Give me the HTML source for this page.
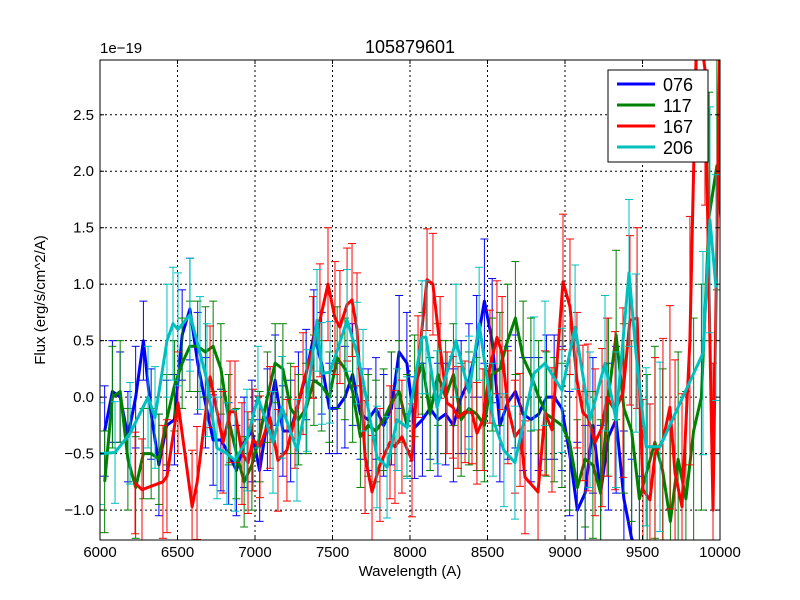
<!DOCTYPE html>
<html><head><meta charset="utf-8"><style>
html,body{margin:0;padding:0;background:#fff;overflow:hidden;width:800px;height:600px}
svg{display:block}
svg text{font-family:"Liberation Sans","DejaVu Sans",sans-serif}
</style></head><body>
<svg id="chart" width="800" height="600" xmlns="http://www.w3.org/2000/svg">
<rect width="800" height="600" fill="#fff"/>
<defs><clipPath id="clip"><rect x="100" y="60" width="620" height="480"/></clipPath></defs>
<g id="grid"></g>
<g id="series" clip-path="url(#clip)"></g>
<rect x="100" y="60" width="620" height="480" fill="none" stroke="#000" stroke-width="1"/>
<g id="ticks"></g>
<text x="410" y="53" font-size="18" text-anchor="middle">105879601</text>
<text x="100" y="53" font-size="15">1e−19</text>
<text x="410" y="576" font-size="15" text-anchor="middle">Wavelength (A)</text>
<text x="45" y="300" font-size="15" text-anchor="middle" transform="rotate(-90 45 300)">Flux (erg/s/cm^2/A)</text>
<g>
<rect x="608" y="70" width="100" height="92" fill="#fff" stroke="#000" stroke-width="1"/>
<g><line x1="617" y1="84" x2="655" y2="84" stroke="#0000ff" stroke-width="3"/><text x="663" y="91" font-size="18">076</text></g>
<g><line x1="617" y1="105" x2="655" y2="105" stroke="#008000" stroke-width="3"/><text x="663" y="112" font-size="18">117</text></g>
<g><line x1="617" y1="126" x2="655" y2="126" stroke="#ff0000" stroke-width="3"/><text x="663" y="133" font-size="18">167</text></g>
<g><line x1="617" y1="147" x2="655" y2="147" stroke="#00bfbf" stroke-width="3"/><text x="663" y="154" font-size="18">206</text></g>
</g>
</svg>
<script>
const xTicks=[6000,6500,7000,7500,8000,8500,9000,9500,10000];
const yTicks=[-1.0,-0.5,0.0,0.5,1.0,1.5,2.0,2.5];
const yTickLabels=["−1.0","−0.5","0.0","0.5","1.0","1.5","2.0","2.5"];
const blueVals=[-0.3,0.05,0.0,-0.35,0.0,0.5,-0.15,-0.6,-0.25,-0.2,0.55,0.78,0.3,-0.05,-0.38,-0.38,-0.5,-0.65,-0.4,-0.3,-0.65,-0.2,0.15,-0.3,-0.3,-0.05,0.2,0.55,0.3,-0.1,-0.1,0.0,0.2,-0.15,-0.2,-0.1,-0.25,-0.1,0.4,0.3,-0.27,-0.2,-0.1,-0.2,-0.15,-0.25,0.0,0.15,0.45,0.85,0.5,-0.25,-0.05,0.05,-0.15,-0.2,-0.15,0.0,0.0,-0.1,-0.5,-1.0,-0.85,-0.25,-0.85,-0.35,-0.2,-0.9,-1.25,-1.4];
const blueErr=[0.4,0.45,0.4,0.4,0.45,0.35,0.4,0.45,0.4,0.4,0.4,0.45,0.45,0.4,0.4,0.45,0.45,0.4,0.4,0.45,0.45,0.45,0.4,0.4,0.45,0.45,0.4,0.4,0.45,0.4,0.4,0.45,0.45,0.4,0.45,0.45,0.45,0.5,0.5,0.45,0.45,0.5,0.45,0.5,0.45,0.5,0.5,0.5,0.45,0.55,0.55,0.5,0.5,0.5,0.5,0.55,0.5,0.55,0.55,0.55,0.55,0.6,0.6,0.6,0.6,0.65,0.65,0.6,0.7,0.7];
const greenVals=[-0.75,0.0,0.05,-0.55,-0.8,-0.5,-0.5,-0.55,-0.2,0.1,0.3,0.45,0.45,0.4,0.45,0.25,-0.2,-0.5,-0.75,-0.6,-0.35,0.0,0.3,0.25,-0.1,-0.2,-0.1,0.15,0.1,0.0,0.35,0.25,0.05,-0.35,-0.25,-0.3,-0.2,-0.05,0.05,-0.25,0.1,0.3,-0.15,0.2,0.0,0.2,-0.2,-0.1,-0.15,-0.25,0.2,0.25,0.5,0.7,0.35,0.2,0.0,-0.15,-0.2,-0.25,-0.4,-0.8,-0.55,-0.6,-0.85,0.0,0.55,-0.1,-0.3,-0.9,-0.65,-0.4,-0.65,-1.1,-0.55,-0.9,-0.3,0.0,1.6,2.05,1.15];
const greenErr=[0.45,0.45,0.45,0.45,0.45,0.4,0.4,0.4,0.4,0.4,0.4,0.4,0.4,0.4,0.4,0.4,0.4,0.4,0.4,0.4,0.4,0.4,0.35,0.4,0.4,0.4,0.4,0.4,0.4,0.4,0.45,0.45,0.45,0.45,0.45,0.45,0.45,0.45,0.45,0.45,0.45,0.45,0.5,0.45,0.5,0.45,0.5,0.5,0.5,0.5,0.5,0.5,0.5,0.5,0.5,0.5,0.5,0.55,0.55,0.55,0.6,0.6,0.6,0.65,0.65,0.7,0.75,0.75,0.8,0.8,0.85,0.85,0.9,0.9,0.95,0.95,1.0,1.0,1.1,1.1,1.1];
const redWl=[6226,6271,6406,6432,6503,6594,6626,6710,6794,6839,6871,6916,6955,6987,7032,7097,7148,7206,7258,7310,7374,7419,7471,7516,7548,7594,7626,7658,7710,7755,7806,7871,7903,7948,8013,8052,8110,8148,8194,8239,8277,8310,8355,8400,8432,8471,8516,8561,8594,8632,8677,8710,8742,8826,8871,8916,8987,9032,9077,9116,9148,9194,9239,9271,9323,9374,9419,9465,9503,9548,9581,9632,9677,9710,9755,9806,9852,9903,9955,10000];
const redVals=[-0.76,-0.82,-0.75,-0.7,-0.05,-0.97,-0.76,0.18,-0.4,-0.13,-0.13,-0.5,-0.58,-0.38,-0.44,-0.18,-0.56,-0.47,-0.18,0.12,0.44,0.68,1.0,0.7,0.62,0.82,0.86,0.6,-0.53,-0.84,-0.6,-0.4,-0.44,-0.35,-0.56,0.27,1.04,1.0,0.44,-0.05,-0.09,-0.18,-0.13,-0.14,-0.32,-0.2,0.27,0.53,0.39,-0.09,-0.35,-0.29,-0.71,-0.84,-0.14,-0.29,1.02,0.8,0.15,-0.14,-0.18,-0.4,-0.27,0.0,-0.12,0.04,0.68,0.7,-0.82,-0.91,-0.5,-0.38,-0.09,-0.67,-0.97,0.5,3.5,2.9,-1.0,3.3];
const redErr=[0.45,0.45,0.5,0.5,0.45,0.5,0.5,0.45,0.45,0.45,0.45,0.45,0.45,0.45,0.45,0.45,0.45,0.45,0.45,0.45,0.45,0.5,0.5,0.5,0.5,0.5,0.5,0.5,0.5,0.5,0.5,0.5,0.5,0.5,0.5,0.45,0.45,0.45,0.45,0.45,0.45,0.45,0.45,0.45,0.45,0.45,0.5,0.5,0.5,0.5,0.5,0.5,0.5,0.55,0.55,0.55,0.6,0.6,0.6,0.6,0.65,0.65,0.7,0.7,0.7,0.75,0.75,0.8,0.8,0.85,0.85,0.9,0.9,1.0,1.0,1.1,1.2,1.2,1.3,1.3];
const cyanWl=[6000,6097,6194,6310,6355,6432,6471,6503,6581,6645,6690,6755,6819,6871,6948,7019,7116,7174,7271,7335,7400,7432,7484,7594,7658,7697,7787,7852,7916,7981,8077,8103,8174,8297,8381,8446,8536,8606,8677,8800,8871,8981,9065,9161,9258,9329,9413,9458,9523,9613,9890,9935,9974];
const cyanVals=[-0.5,-0.49,-0.32,0.0,-0.18,0.5,0.65,0.6,0.73,0.39,0.15,-0.45,-0.5,-0.56,-0.38,0.0,-0.4,-0.09,-0.47,-0.03,0.68,0.21,0.22,0.68,0.39,0.15,-0.53,-0.62,-0.2,-0.27,0.53,0.53,-0.09,0.5,0.04,0.65,-0.2,-0.47,-0.58,0.21,0.3,0.06,0.62,-0.2,0.3,-0.2,1.1,0.39,-0.44,-0.44,0.39,1.57,0.97];
const cyanErr=[0.45,0.45,0.45,0.45,0.45,0.5,0.5,0.5,0.5,0.5,0.5,0.45,0.45,0.45,0.45,0.45,0.45,0.45,0.45,0.45,0.45,0.45,0.45,0.45,0.45,0.45,0.45,0.45,0.45,0.45,0.5,0.5,0.5,0.5,0.5,0.5,0.5,0.5,0.5,0.5,0.55,0.55,0.55,0.6,0.6,0.6,0.65,0.7,0.7,0.75,0.9,1.0,1.0];

const X0=100,X1=720,Y0=60,Y1=540,xmin=6000,xmax=10000,ymin=-1.265,ymax=2.985;
const sx=v=>X0+(v-xmin)/(xmax-xmin)*(X1-X0);
const sy=v=>Y1-(v-ymin)/(ymax-ymin)*(Y1-Y0);
const cy=y=>Math.max(Y0,Math.min(Y1,y));
const cyl=y=>Math.max(Y0-50,Math.min(Y1+50,y));
const NS="http://www.w3.org/2000/svg";
function mk(tag,attrs,parent){const e=document.createElementNS(NS,tag);for(const k in attrs)e.setAttribute(k,attrs[k]);parent.appendChild(e);return e;}
const grid=document.getElementById('grid'),ticks=document.getElementById('ticks'),ser=document.getElementById('series');
xTicks.forEach(t=>{const x=sx(t);
 const g=mk('line',{x1:x,x2:x,y1:Y0,y2:Y1,stroke:'#000','stroke-dasharray':'2,3','stroke-width':1},grid);
 
 
 mk('line',{x1:x,x2:x,y1:Y1,y2:Y1-4,stroke:'#000'},ticks);
 mk('line',{x1:x,x2:x,y1:Y0,y2:Y0+4,stroke:'#000'},ticks);
 const tx=mk('text',{x:x,y:Y1+17,'font-size':15,'text-anchor':'middle'},ticks);tx.textContent=t;
 
 
});
yTicks.forEach((t,i)=>{const y=sy(t);
 const g=mk('line',{x1:X0,x2:X1,y1:y,y2:y,stroke:'#000','stroke-dasharray':'2,3','stroke-width':1},grid);
 
 
 mk('line',{x1:X0,x2:X0+4,y1:y,y2:y,stroke:'#000'},ticks);
 mk('line',{x1:X1,x2:X1-4,y1:y,y2:y,stroke:'#000'},ticks);
 const tx=mk('text',{x:X0-6,y:y+5,'font-size':15,'text-anchor':'end'},ticks);tx.textContent=yTickLabels[i];
 
 
});
function gridWl(n){const a=[];for(let i=0;i<n;i++)a.push(6030+50*i);return a;}
function draw(name,wl,vals,err,color){
 const g=mk('g',{},ser);
 
 
 vals.forEach((v,i)=>{const x=sx(wl[i]),e=err[i]||0.5;
  const ya=sy(v+e),yb=sy(v-e);
  const ca=cy(ya),cb=cy(yb);
  if(cb>ca) mk('line',{x1:x,x2:x,y1:ca,y2:cb,stroke:color,'stroke-width':1},g);
  if(ya>=Y0&&ya<=Y1) mk('line',{x1:x-4,x2:x+4,y1:ya,y2:ya,stroke:color,'stroke-width':1},g);
  if(yb>=Y0&&yb<=Y1) mk('line',{x1:x-4,x2:x+4,y1:yb,y2:yb,stroke:color,'stroke-width':1},g);
 });
 const pts=vals.map((v,i)=>sx(wl[i]).toFixed(1)+','+cyl(sy(v)).toFixed(1)).join(' ');
 const pl=mk('polyline',{points:pts,fill:'none',stroke:color,'stroke-width':3,'stroke-linejoin':'round'},g);
 
 
}
draw('076',gridWl(blueVals.length),blueVals,blueErr,'#0000ff');
draw('117',gridWl(greenVals.length),greenVals,greenErr,'#008000');
draw('167',redWl,redVals,redErr,'#ff0000');
draw('206',cyanWl,cyanVals,cyanErr,'#00bfbf');
</script>
</body></html>
